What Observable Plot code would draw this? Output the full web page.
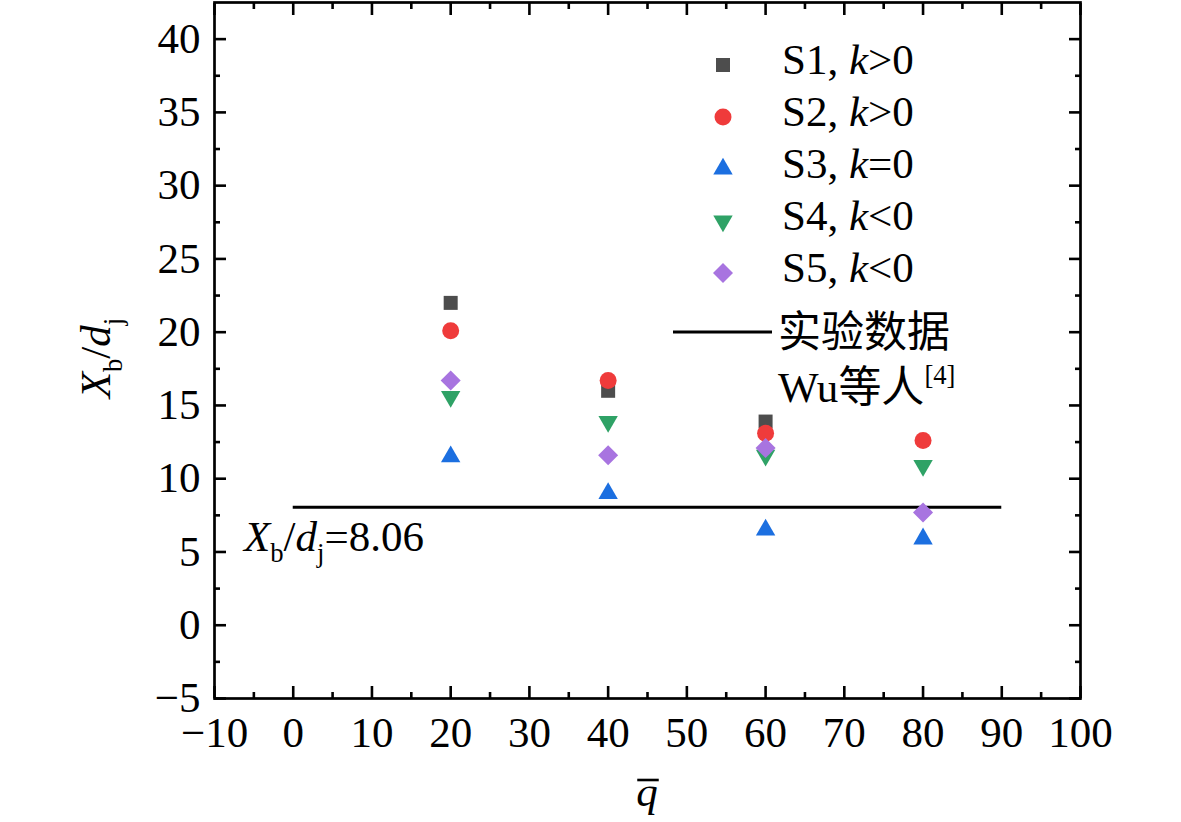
<!DOCTYPE html>
<html><head><meta charset="utf-8">
<script src="https://cdn.jsdelivr.net/npm/d3@7"></script>
<script src="https://cdn.jsdelivr.net/npm/@observablehq/plot@0.6"></script>
<style>
html,body{margin:0;padding:0;background:#fff;}
#chart{position:relative;width:1181px;height:822px;}
</style></head><body><div id="chart"></div>
<script>
// ---- data ----
const qValues = [20, 40, 60, 80];
const seriesNames = ["S1", "S2", "S3", "S4", "S5"];
const seriesSigns = [">0", ">0", "=0", "<0", "<0"];
const s1Values = [22.0, 16.0, 13.9, null];
const s2Values = [20.1, 16.7, 13.1, 12.6];
const s3Values = [11.5, 9.0, 6.5, 5.9];
const s4Values = [15.6, 13.9, 11.6, 10.9];
const s5Values = [16.7, 11.6, 12.1, 7.7];
const expValue = 8.06;
const expRange = [0, 90];
const xTicks = [-10, 0, 10, 20, 30, 40, 50, 60, 70, 80, 90, 100];
const xMinorTicks = [-5, 5, 15, 25, 35, 45, 55, 65, 75, 85, 95];
const yTicks = [-5, 0, 5, 10, 15, 20, 25, 30, 35, 40];
const yMinorTicks = [-2.5, 2.5, 7.5, 12.5, 17.5, 22.5, 27.5, 32.5, 37.5];
const xDomain = [-10, 100];
const yDomain = [-5, 42.5];

// ---- styles ----
const seriesStyle = [
  {fill: "#4d4d4d", symbol: "square", r: 7.9, rotate: 0},
  {fill: "#ef3b3b", symbol: "circle", r: 8.5, rotate: 0},
  {fill: "#1c6fe0", symbol: "triangle", r: 7.2, rotate: 0},
  {fill: "#2fa266", symbol: "triangle", r: 7.2, rotate: 180},
  {fill: "#a874e0", symbol: "square", r: 8.0, rotate: 45}
];
const allValues = [s1Values, s2Values, s3Values, s4Values, s5Values];
const points = seriesNames.map((name, si) =>
  qValues.map((q, i) => ({q, v: allValues[si][i], series: name})).filter(d => d.v != null));

const FONT = '"Liberation Serif","Times New Roman",serif';
const FS = 43;

const marks = [
  Plot.frame({stroke: "#000", strokeWidth: 2.7}),
  Plot.axisX(xTicks, {anchor: "bottom", tickSize: 0, tickPadding: 18, label: null, fontSize: FS}),
  Plot.axisY(yTicks, {anchor: "left", tickSize: 0, tickPadding: 14, label: null, fontSize: FS}),
  Plot.axisX(xTicks, {anchor: "bottom", tickSize: -12, strokeWidth: 2.6, tickFormat: () => "", label: null}),
  Plot.axisX(xMinorTicks, {anchor: "bottom", tickSize: -6, strokeWidth: 2.6, tickFormat: () => "", label: null}),
  Plot.axisX(xTicks, {anchor: "top", tickSize: -12, strokeWidth: 2.6, tickFormat: () => "", label: null}),
  Plot.axisX(xMinorTicks, {anchor: "top", tickSize: -6, strokeWidth: 2.6, tickFormat: () => "", label: null}),
  Plot.axisY(yTicks, {anchor: "left", tickSize: -12, strokeWidth: 2.6, tickFormat: () => "", label: null}),
  Plot.axisY(yMinorTicks, {anchor: "left", tickSize: -6, strokeWidth: 2.6, tickFormat: () => "", label: null}),
  Plot.axisY(yTicks, {anchor: "right", tickSize: -12, strokeWidth: 2.6, tickFormat: () => "", label: null}),
  Plot.axisY(yMinorTicks, {anchor: "right", tickSize: -6, strokeWidth: 2.6, tickFormat: () => "", label: null}),
  Plot.ruleY([expValue], {x1: expRange[0], x2: expRange[1], stroke: "#000", strokeWidth: 3}),
  ...points.map((pts, si) => Plot.dot(pts, {
    x: "q", y: "v",
    symbol: () => seriesStyle[si].symbol,
    fill: seriesStyle[si].fill, stroke: "none",
    r: seriesStyle[si].r, rotate: seriesStyle[si].rotate
  }))
];

const plot = Plot.plot({
  width: 1181, height: 822,
  marginLeft: 214, marginRight: 101, marginTop: 2, marginBottom: 124,
  x: {domain: xDomain},
  y: {domain: yDomain},
  symbol: {type: "identity"},
  style: {fontFamily: FONT, fontSize: FS + "px", color: "#000", background: "#fff", overflow: "visible"},
  marks
});
document.getElementById("chart").appendChild(plot);

const xs = plot.scale("x"), ys = plot.scale("y");
const svg = d3.select(plot);

function richText(g, parts, attrs) {
  const t = g.append("text").attr("font-family", FONT + ',"Noto Sans CJK SC"').attr("font-size", FS)
    .attr("fill", "#000").attr("text-anchor", "start");
  for (const k in attrs) t.attr(k, attrs[k]);
  let shift = 0;
  for (const p of parts) {
    const ts = t.append("tspan").text(p.t);
    if (p.italic) ts.attr("font-style", "italic");
    let target = 0, size = null;
    if (p.sub) { target = 0.27 * FS; size = FS * 0.62; }
    if (p.sup) { target = -0.42 * FS; size = FS * 0.62; }
    if (p.font) ts.attr("font-family", p.font);
    if (size) ts.attr("font-size", size);
    if (target !== shift) { ts.attr("dy", target - shift); shift = target; }
  }
  return t;
}

// y-axis label
richText(svg, [
  {t: "X", italic: true}, {t: "b", sub: true}, {t: "/"}, {t: "d", italic: true}, {t: "j", sub: true}
], {"text-anchor": "middle", transform: `translate(110,358) rotate(-90)`});

// x-axis label q-bar
const xMid = (xs.range[0] + xs.range[1]) / 2;
const qText = richText(svg, [{t: "q", italic: true}], {"text-anchor": "middle", x: xMid, y: 806});
const bb = qText.node().getBBox();
svg.append("line").attr("x1", bb.x + 1).attr("x2", bb.x + bb.width + 1)
  .attr("y1", 780).attr("y2", 780).attr("stroke", "#000").attr("stroke-width", 2.6);

// annotation
richText(svg, [
  {t: "X", italic: true}, {t: "b", sub: true}, {t: "/"}, {t: "d", italic: true}, {t: "j", sub: true}, {t: "=8.06"}
], {x: xs.apply(xDomain[0]) + 30, y: ys.apply(expValue) + 44});

// legend
const lg = svg.append("g");
const legX = 723, legTextX = 782, legY0 = 65, legStep = 52;
seriesNames.forEach((name, i) => {
  const st = seriesStyle[i];
  const y = legY0 + i * legStep;
  const symType = {square: d3.symbolSquare, circle: d3.symbolCircle, triangle: d3.symbolTriangle}[st.symbol];
  lg.append("path").attr("d", d3.symbol(symType, Math.PI * st.r * st.r)())
    .attr("fill", st.fill).attr("transform", `translate(${legX},${y}) rotate(${st.rotate})`);
  richText(lg, [{t: name + ", "}, {t: "k", italic: true}, {t: seriesSigns[i]}], {x: legTextX, y: y + 9});
});
const lineY = legY0 + 5 * legStep + 7;
lg.append("line").attr("x1", 673).attr("x2", 772).attr("y1", lineY).attr("y2", lineY)
  .attr("stroke", "#000").attr("stroke-width", 2.8);
richText(lg, [{t: "实验数据", font: '"Noto Sans CJK SC"'}], {x: legTextX - 4, y: lineY + 15});
richText(lg, [{t: "Wu"}, {t: "等人", font: '"Noto Sans CJK SC"'}, {t: "[4]", sup: true}], {x: legTextX - 4, y: lineY + 70});
</script></body></html>
